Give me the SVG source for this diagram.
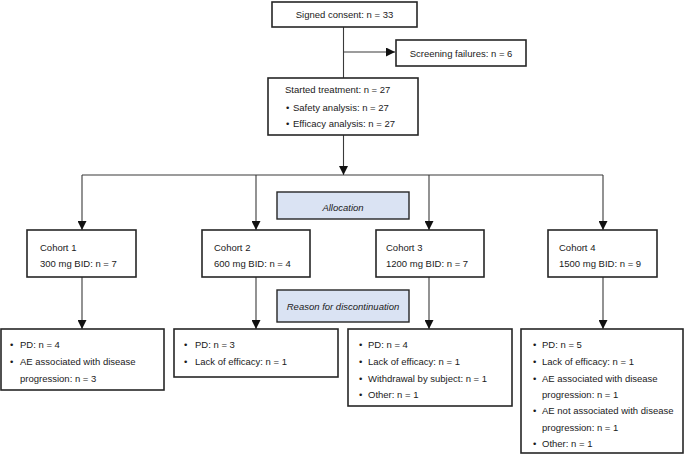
<svg xmlns="http://www.w3.org/2000/svg" width="685" height="454" viewBox="0 0 685 454">
<style>
.box{fill:#fff;stroke:#262626;stroke-width:1.6}
.lbl{fill:#dae3f3;stroke:#262626;stroke-width:1.4}
text{font-family:"Liberation Sans",Arial,sans-serif;font-size:9.5px;fill:#1a1a1a}
.it{font-style:italic;text-anchor:middle}
.c{text-anchor:middle}
.ln{fill:none;stroke:#3a3a3a;stroke-width:1.1}
</style>
<defs>
<marker id="ah" viewBox="0 0 10 10" refX="10" refY="5" markerWidth="9" markerHeight="9" markerUnits="userSpaceOnUse" orient="auto">
<path d="M0,0 L10,5 L0,10 Z" fill="#111"/>
</marker>
</defs>
<g id="connectors">
<path class="ln" d="M343.5,27 V78"/>
<path class="ln" d="M343.5,52 H395" marker-end="url(#ah)"/>
<path class="ln" d="M343.5,135 V175" marker-end="url(#ah)"/>
<path class="ln" d="M82,175 H603"/>
<path class="ln" d="M82,175 V230" marker-end="url(#ah)"/>
<path class="ln" d="M256,175 V230" marker-end="url(#ah)"/>
<path class="ln" d="M429,175 V230" marker-end="url(#ah)"/>
<path class="ln" d="M603,175 V230" marker-end="url(#ah)"/>
<path class="ln" d="M82,277 V329" marker-end="url(#ah)"/>
<path class="ln" d="M256,277 V329" marker-end="url(#ah)"/>
<path class="ln" d="M429,277 V329" marker-end="url(#ah)"/>
<path class="ln" d="M603,277 V329" marker-end="url(#ah)"/>
</g>
<g id="consent">
<rect class="box" x="272" y="2" width="145" height="25"/>
<text class="c" x="344.5" y="18">Signed consent: n = 33</text>
</g>
<g id="screening">
<rect class="box" x="396" y="40" width="130" height="26"/>
<text class="c" x="461" y="56.5">Screening failures: n = 6</text>
</g>
<g id="started">
<rect class="box" x="268" y="78" width="150" height="57"/>
<text x="285" y="93">Started treatment: n = 27</text>
<text x="286" y="111">•</text><text x="293" y="111">Safety analysis: n = 27</text>
<text x="286" y="127">•</text><text x="293" y="127">Efficacy analysis: n = 27</text>
</g>
<g id="allocation">
<rect class="lbl" x="277" y="192" width="132" height="27"/>
<text class="it" x="343" y="211">Allocation</text>
</g>
<g id="reason">
<rect class="lbl" x="277" y="290" width="132" height="32"/>
<text class="it" x="343" y="310">Reason for discontinuation</text>
</g>
<g id="cohort1">
<rect class="box" x="27" y="230" width="109" height="47"/>
<text x="40" y="251">Cohort 1</text>
<text x="40" y="267">300 mg BID: n = 7</text>
</g>
<g id="cohort2">
<rect class="box" x="202" y="230" width="108" height="47"/>
<text x="214" y="251">Cohort 2</text>
<text x="214" y="267">600 mg BID: n = 4</text>
</g>
<g id="cohort3">
<rect class="box" x="376" y="230" width="108" height="47"/>
<text x="386" y="251">Cohort 3</text>
<text x="386" y="267">1200 mg BID: n = 7</text>
</g>
<g id="cohort4">
<rect class="box" x="548" y="230" width="109" height="47"/>
<text x="559" y="251">Cohort 4</text>
<text x="559" y="267">1500 mg BID: n = 9</text>
</g>
<g id="result1">
<rect class="box" x="1" y="329" width="163" height="61"/>
<text x="10" y="348">•</text><text x="20" y="348">PD: n = 4</text>
<text x="10" y="365">•</text><text x="20" y="365">AE associated with disease</text>
<text x="20" y="382">progression: n = 3</text>
</g>
<g id="result2">
<rect class="box" x="174" y="329" width="164" height="48"/>
<text x="184" y="348">•</text><text x="195" y="348">PD: n = 3</text>
<text x="184" y="365">•</text><text x="195" y="365">Lack of efficacy: n = 1</text>
</g>
<g id="result3">
<rect class="box" x="348" y="329" width="164" height="77"/>
<text x="359" y="348">•</text><text x="368" y="348">PD: n = 4</text>
<text x="359" y="365">•</text><text x="368" y="365">Lack of efficacy: n = 1</text>
<text x="359" y="382">•</text><text x="368" y="382">Withdrawal by subject: n = 1</text>
<text x="359" y="398">•</text><text x="368" y="398">Other: n = 1</text>
</g>
<g id="result4">
<rect class="box" x="521" y="329" width="162" height="124"/>
<text x="533" y="348">•</text><text x="542" y="348">PD: n = 5</text>
<text x="533" y="365">•</text><text x="542" y="365">Lack of efficacy: n = 1</text>
<text x="533" y="382">•</text><text x="542" y="382">AE associated with disease</text>
<text x="542" y="398">progression: n = 1</text>
<text x="533" y="414">•</text><text x="542" y="414">AE not associated with disease</text>
<text x="542" y="431">progression: n = 1</text>
<text x="533" y="447">•</text><text x="542" y="447">Other: n = 1</text>
</g>
</svg>
